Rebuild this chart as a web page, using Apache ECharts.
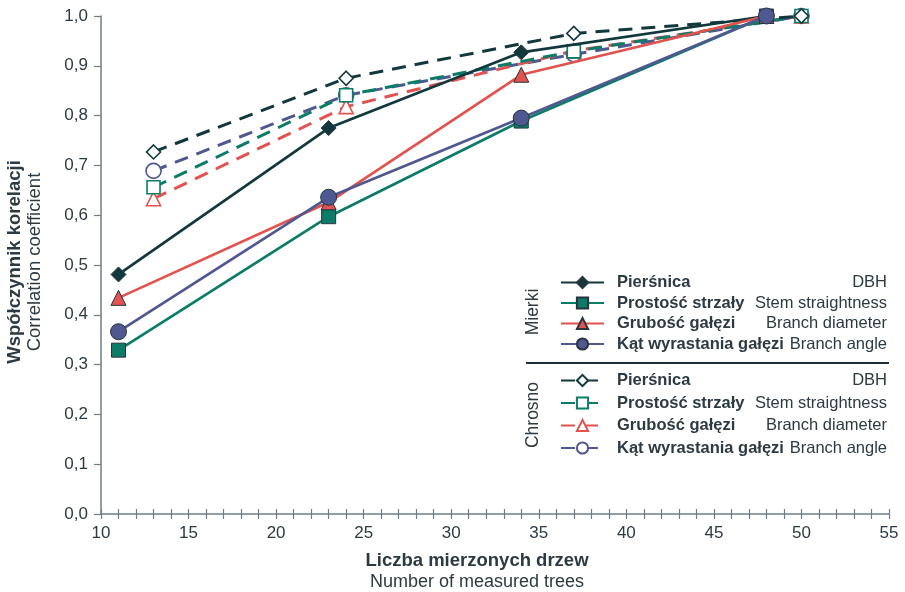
<!DOCTYPE html>
<html><head><meta charset="utf-8">
<script src="https://cdn.jsdelivr.net/npm/echarts@6/dist/echarts.min.js"></script>
<style>html,body{margin:0;padding:0;background:#fff}#c{width:905px;height:592px}</style>
</head><body><div id="c"></div>
<script>
const xMierki = [11, 23, 34, 48];
const xChrosno = [13, 24, 37, 50];
const namesPL = ['Pierśnica', 'Prostość strzały', 'Grubość gałęzi', 'Kąt wyrastania gałęzi'];
const namesEN = ['DBH', 'Stem straightness', 'Branch diameter', 'Branch angle'];
const groupLabels = ['Mierki', 'Chrosno'];
const yTicks = [0, 0.1, 0.2, 0.3, 0.4, 0.5, 0.6, 0.7, 0.8, 0.9, 1.0];
const xTicks = [10, 15, 20, 25, 30, 35, 40, 45, 50, 55];

const mierkiDBH    = [0.481, 0.775, 0.927, 1.0];
const mierkiStem   = [0.329, 0.597, 0.789, 1.0];
const mierkiBranch = [0.434, 0.626, 0.882, 1.0];
const mierkiAngle  = [0.366, 0.636, 0.795, 1.0];

const chrosnoDBH    = [0.727, 0.875, 0.965, 1.0];
const chrosnoStem   = [0.656, 0.841, 0.929, 1.0];
const chrosnoBranch = [0.633, 0.818, 0.930, 1.0];
const chrosnoAngle  = [0.689, 0.841, 0.923, 1.0];

const colors = ['#11393d', '#0b7c67', '#e0534e', '#4f5890'];
const symbols = ['diamond', 'rect', 'triangle', 'circle'];
const symSizes = [15, 14, 15, 16];
const FONT = '"Liberation Sans", Arial, sans-serif';
const TXT = '#2c3a44';
const LFS = 16.5;

const mierki = [mierkiDBH, mierkiStem, mierkiBranch, mierkiAngle];
const chrosno = [chrosnoDBH, chrosnoStem, chrosnoBranch, chrosnoAngle];

const ctx = document.createElement('canvas').getContext('2d');
function tw(t, bold){ ctx.font = (bold ? 'bold ' : '') + LFS + 'px ' + FONT; return ctx.measureText(t).width; }
const TOTAL = 278, PADL = 8;

const series = [];
const legendM = [], legendC = [];
for (let i = 0; i < 4; i++) {
  const nm = 'M' + i;
  legendM.push(nm);
  series.push({
    name: nm, type: 'line',
    data: xMierki.map((x, k) => [x, mierki[i][k]]),
    symbol: symbols[i], symbolSize: symSizes[i],
    lineStyle: { color: colors[i], width: 2.7, type: 'solid' },
    itemStyle: { color: colors[i], borderColor: '#26353f', borderWidth: 1 },
    z: 3 + i
  });
}
for (let i = 0; i < 4; i++) {
  const nm = 'C' + i;
  legendC.push(nm);
  series.unshift({
    name: nm, type: 'line',
    data: xChrosno.map((x, k) => [x, chrosno[i][k]]),
    symbol: symbols[i], symbolSize: symSizes[i] - 1,
    lineStyle: { color: colors[i], width: 3, type: [14, 9] },
    itemStyle: { color: '#ffffff', borderColor: colors[i], borderWidth: 1.6 },
    z: 2
  });
}

function makeLegend(data, top, gap) {
  const rich = {
    a: { fontFamily: FONT, fontSize: LFS, fontWeight: 'bold', color: TXT, padding: [0, 0, 0, PADL], lineHeight: 19 }
  };
  namesEN.forEach((e, i) => {
    rich['b' + i] = { fontFamily: FONT, fontSize: LFS, color: TXT, lineHeight: 19, align: 'right',
                      width: Math.max(10, TOTAL - PADL - tw(namesPL[i], true)) };
  });
  return {
    data: data, orient: 'vertical', left: 555, top: top,
    itemWidth: 43, itemHeight: 14, itemGap: gap,
    selectedMode: false,
    formatter: function (name) {
      const i = +name.slice(1);
      return '{a|' + namesPL[i] + '}{b' + i + '|' + namesEN[i] + '}';
    },
    textStyle: { rich: rich }
  };
}

const chart = echarts.init(document.getElementById('c'), null, { renderer: 'canvas' });
const axisCol = '#6d7d8a';
chart.setOption({
  animation: false,
  backgroundColor: '#ffffff',
  grid: { left: 101, right: 16, top: 16, bottom: 78 },
  xAxis: [{
    type: 'value', min: 10, max: 55, interval: 1,
    axisLine: { lineStyle: { color: axisCol, width: 1.5 } },
    axisTick: { show: true, inside: false, length: 5, lineStyle: { color: axisCol, width: 1.2 } },
    splitLine: { show: false },
    axisLabel: { margin: 11, color: TXT, fontFamily: FONT, fontSize: 17,
      formatter: v => (xTicks.indexOf(v) >= 0 ? String(v) : '') }
  }, {
    type: 'value', min: 10, max: 55, interval: 1, position: 'bottom',
    axisLine: { show: false },
    axisTick: { show: true, inside: true, length: 5, lineStyle: { color: axisCol, width: 1.2 } },
    splitLine: { show: false }, axisLabel: { show: false }
  }],
  yAxis: {
    type: 'value', min: 0, max: 1, interval: 0.1,
    axisLine: { show: true, lineStyle: { color: axisCol, width: 1.5 } },
    axisTick: { show: true, length: 7, lineStyle: { color: axisCol, width: 1.2 } },
    splitLine: { show: false },
    axisLabel: { margin: 13, color: TXT, fontFamily: FONT, fontSize: 17,
      formatter: v => (yTicks.some(t => Math.abs(t - v) < 1e-9) ? v.toFixed(1).replace('.', ',') : '') }
  },
  legend: [makeLegend(legendM, 269, 3.5), makeLegend(legendC, 367, 5.5)],
  graphic: [
    { type: 'text', x: 15, y: 262, rotation: Math.PI / 2, style: { text: 'Współczynnik korelacji', font: 'bold 18.5px ' + FONT, fill: TXT, align: 'center', verticalAlign: 'middle' } },
    { type: 'text', x: 35, y: 262, rotation: Math.PI / 2, style: { text: 'Correlation coefficient', font: '18.5px ' + FONT, fill: TXT, align: 'center', verticalAlign: 'middle' } },
    { type: 'text', x: 477, y: 561, style: { text: 'Liczba mierzonych drzew', font: 'bold 18.5px ' + FONT, fill: TXT, align: 'center', verticalAlign: 'middle' } },
    { type: 'text', x: 477, y: 582, style: { text: 'Number of measured trees', font: '18px ' + FONT, fill: TXT, align: 'center', verticalAlign: 'middle' } },
    { type: 'text', x: 533, y: 312, rotation: Math.PI / 2, style: { text: groupLabels[0], font: '17.5px ' + FONT, fill: TXT, align: 'center', verticalAlign: 'middle' } },
    { type: 'text', x: 533, y: 415, rotation: Math.PI / 2, style: { text: groupLabels[1], font: '17.5px ' + FONT, fill: TXT, align: 'center', verticalAlign: 'middle' } },
    { type: 'line', shape: { x1: 526, y1: 363, x2: 889, y2: 363 }, style: { stroke: '#1e2e38', lineWidth: 2 } }
  ],
  series: series
});
</script></body></html>
